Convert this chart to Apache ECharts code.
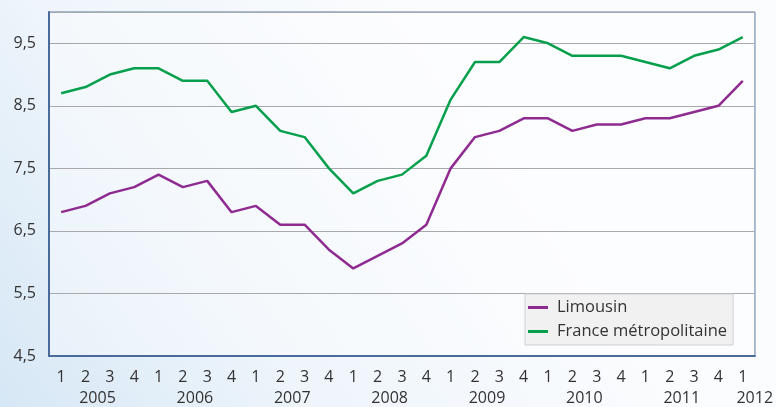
<!DOCTYPE html>
<html>
<head>
<meta charset="utf-8">
<script src="https://cdn.jsdelivr.net/npm/echarts@6/dist/echarts.min.js"></script>
<style>
  html, body { margin: 0; padding: 0; }
  #chart { width: 776px; height: 407px; }
</style>
</head>
<body>
<div id="chart"></div>
<script>
// quarters 2005T1 .. 2012T1
const quarters = ['1','2','3','4','1','2','3','4','1','2','3','4','1','2','3','4',
  '1','2','3','4','1','2','3','4','1','2','3','4','1']
const years = ['2005','2005','2005','2005','2006','2006','2006','2006','2007','2007','2007','2007',
  '2008','2008','2008','2008','2009','2009','2009','2009','2010','2010','2010','2010',
  '2011','2011','2011','2011','2012']
const limousin = [6.8, 6.9, 7.1, 7.2, 7.4, 7.2, 7.3, 6.8, 6.9, 6.6, 6.6, 6.2, 5.9, 6.1, 6.3, 6.6,
  7.5, 8.0, 8.1, 8.3, 8.3, 8.1, 8.2, 8.2, 8.3, 8.3, 8.4, 8.5, 8.9]
const france = [8.7, 8.8, 9.0, 9.1, 9.1, 8.9, 8.9, 8.4, 8.5, 8.1, 8.0, 7.5, 7.1, 7.3, 7.4, 7.7,
  8.6, 9.2, 9.2, 9.6, 9.5, 9.3, 9.3, 9.3, 9.2, 9.1, 9.3, 9.4, 9.6]

const font = 'Open Sans'
const chart = echarts.init(document.getElementById('chart'))

const option = {
  animation: false,
  backgroundColor: {
    type: 'linear', x: 0, y: 1, x2: 0.6, y2: 0.2,
    colorStops: [
      { offset: 0, color: '#d6e7f5' },
      { offset: 0.45, color: '#eef5fb' },
      { offset: 1, color: '#fbfcfe' },
    ],
  },
  grid: {
    left: 49, right: 17, top: 12, bottom: 51,
    show: true,
    borderColor: '#5a78a8',
    borderWidth: 1,
    backgroundColor: 'rgba(255,255,255,0.35)',
  },
  legend: {
    orient: 'vertical',
    left: 525, top: 294,
    backgroundColor: '#f1f1f2',
    borderColor: '#cfcfd4',
    borderWidth: 1,
    borderRadius: 0,
    padding: [5, 6, 5, 3],
    itemGap: 7,
    itemWidth: 20,
    itemHeight: 3,
    icon: 'rect',
    textStyle: { fontFamily: font, fontSize: 16.5, color: '#333', padding: [0, 0, 0, 4] },
    data: ['Limousin', 'France métropolitaine'],
  },
  xAxis: [
    {
      type: 'category',
      data: quarters,
      axisLine: { lineStyle: { color: '#4a6a9c', width: 2 } },
      axisTick: { show: false },
      axisLabel: { fontFamily: font, fontSize: 16, color: '#333', margin: 13, interval: 0 },
    },
    {
      type: 'category',
      data: years,
      position: 'bottom',
      offset: 21,
      axisLine: { show: false },
      axisTick: { show: false },
      axisLabel: {
        fontFamily: font, fontSize: 16, color: '#333', margin: 13,
        interval: (i) => i % 4 === 1 || i === years.length - 1,
        padding: [0, 0, 0, 24],
      },
    },
  ],
  yAxis: {
    type: 'value',
    min: 4.5, max: 10, interval: 1,
    axisLine: { show: true, lineStyle: { color: '#4a6a9c', width: 2 } },
    axisTick: { show: false },
    splitLine: { lineStyle: { color: '#a9a9ad', width: 1 } },
    axisLabel: {
      fontFamily: font, fontSize: 16, color: '#333', margin: 13,
      showMaxLabel: false,
      formatter: (v) => (v >= 10 ? '' : v.toFixed(1).replace('.', ',')),
    },
  },
  series: [
    {
      name: 'Limousin',
      type: 'line',
      data: limousin,
      symbol: 'none',
      lineStyle: { color: '#8e2b90', width: 2.5 },
      itemStyle: { color: '#8e2b90' },
    },
    {
      name: 'France métropolitaine',
      type: 'line',
      data: france,
      symbol: 'none',
      lineStyle: { color: '#06a04c', width: 2.5 },
      itemStyle: { color: '#06a04c' },
    },
  ],
}

chart.setOption(option)
</script>
</body>
</html>
